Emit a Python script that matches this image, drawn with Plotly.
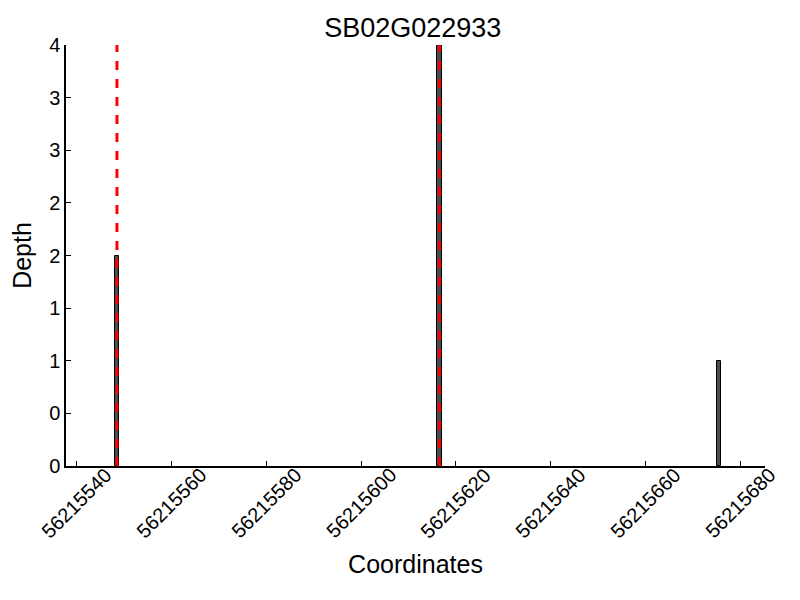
import plotly.graph_objects as go

positions = [56215548, 56215616, 56215675]
depths = [2, 4, 1]
snp_positions = [56215548, 56215616]
y_tick_vals = [0, 0.5, 1, 1.5, 2, 2.5, 3, 3.5, 4]
y_tick_text = ["0", "0", "1", "1", "2", "2", "3", "3", "4"]
x_tick_vals = [56215540, 56215560, 56215580, 56215600, 56215620, 56215640, 56215660, 56215680]
x_tick_text = [str(v) for v in x_tick_vals]
title = "SB02G022933"

fig = go.Figure()
fig.add_trace(go.Bar(
    x=positions, y=depths, width=[1] * len(positions), offset=0,
    marker=dict(color="#4d4d4d", line=dict(color="black", width=1)),
    showlegend=False,
))
for p in snp_positions:
    fig.add_trace(go.Scatter(
        x=[p + 0.5, p + 0.5], y=[0, 4], mode="lines",
        line=dict(color="red", width=3, dash="dash"), showlegend=False,
    ))

font = "Liberation Sans, Arial, sans-serif"
# centred, 45-degree rotated tick labels (matplotlib style)
for v, t in zip(x_tick_vals, x_tick_text):
    fig.add_annotation(
        x=v, xref="x", y=0, yref="paper", yshift=-37,
        text=t, textangle=-45, showarrow=False,
        xanchor="center", yanchor="middle",
        font=dict(size=20, family=font, color="black"),
    )

fig.update_layout(
    width=800, height=600,
    margin=dict(l=58, r=43, t=37, b=142),
    plot_bgcolor="white", paper_bgcolor="white",
    font=dict(family=font, color="black"),
    title=dict(text=title, x=0.506, xanchor="center", y=0.967, yanchor="middle",
               font=dict(size=27, family=font, color="black")),
    bargap=0,
)
fig.update_xaxes(
    range=[56215537.75, 56215685.2], automargin=False,
    tickvals=x_tick_vals, ticktext=x_tick_text,
    tickangle=-45, ticks="inside", ticklen=5, tickcolor="black",
    showline=True, linecolor="black", linewidth=1.5, mirror=False,
    showgrid=False, zeroline=False,
    tickfont=dict(size=19, family=font, color="rgba(0,0,0,0)"),
    title=dict(text="Coordinates", font=dict(size=25, family=font, color="black"), standoff=2),
)
fig.update_yaxes(
    range=[0, 4], automargin=False,
    tickvals=y_tick_vals, ticktext=y_tick_text,
    ticks="inside", ticklen=5, tickcolor="black",
    showline=True, linecolor="black", linewidth=1.5,
    showgrid=False, zeroline=False,
    tickfont=dict(size=20, family=font),
    title=dict(text="Depth", font=dict(size=25, family=font), standoff=11),
)
fig.write_html("out.html")
